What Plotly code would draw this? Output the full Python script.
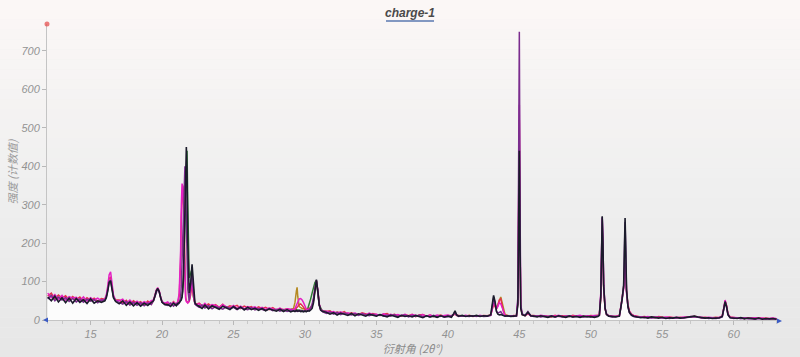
import plotly.graph_objects as go
import numpy as np

# ---------------- data ----------------
two_theta = (
    [12.0,12.25,12.5,12.75,13.0,13.25,13.5,13.75,14.0,14.25,14.5,14.75,15.0,15.25,15.5,15.75]
    + [16.0,16.1,16.2,16.3,16.4,16.5,16.6,16.75]
    + [17.0,17.25,17.5,17.75,18.0,18.25,18.5,18.75,19.0,19.25]
    + [19.4,19.5,19.6,19.7,19.8,19.9,20.0,20.2]
    + [20.4,20.6,20.8,21.0,21.1,21.2]
    + [21.3,21.35,21.4,21.45,21.5,21.55,21.6,21.65,21.7,21.75,21.8,21.9,22.0,22.1,22.2,22.3,22.4]
    + [22.6,22.8,23.0,23.25,23.5,23.75,24.0,24.25,24.5,24.75,25.0,25.25,25.5,25.75,26.0,26.25,26.5,26.75,27.0,27.25,27.5,27.75,28.0,28.25,28.5,28.75,29.0]
    + [29.2,29.3,29.4,29.5,29.6,29.7,29.8,29.9,30.0,30.1,30.2,30.3,30.4,30.5,30.6,30.7,30.8,30.9,31.0,31.1,31.25]
    + [31.5,31.75,32.0,32.25,32.5,32.75,33.0,33.25,33.5,33.75,34.0,34.25,34.5,34.75,35.0,35.25,35.5,35.75,36.0,36.25,36.5,36.75,37.0,37.25,37.5,37.75,38.0,38.25,38.5,38.75,39.0,39.25,39.5,39.75,40.0,40.25]
    + [40.4,40.5,40.6,40.75,41.0,41.25,41.5,41.75,42.0,42.25,42.5,42.75,43.0]
    + [43.1,43.2,43.3,43.4,43.5,43.6,43.7,43.8,43.9,44.0,44.2,44.4,44.6,44.8]
    + [44.9,44.95,45.0,45.05,45.1,45.2,45.4,45.6,45.8]
    + [46.0,46.25,46.5,46.75,47.0,47.25,47.5,47.75,48.0,48.25,48.5,48.75,49.0,49.25,49.5,49.75,50.0,50.25,50.5]
    + [50.6,50.7,50.75,50.8,50.85,50.9,51.0,51.1,51.25,51.5,51.75,52.0]
    + [52.1,52.2,52.3,52.35,52.4,52.45,52.5,52.6,52.7,52.85,53.0]
    + [53.25,53.5,53.75,54.0,54.25,54.5,54.75,55.0,55.25,55.5,55.75,56.0,56.25,56.5,56.75,57.0,57.25,57.5,57.75,58.0,58.25,58.5,58.75,59.0,59.2]
    + [59.3,59.4,59.5,59.6,59.75]
    + [60.0,60.25,60.5,60.75,61.0,61.25,61.5,61.75,62.0,62.25,62.5,62.75,63.0]
)

counts_black = (
    [60,50,62,47,58,45,57,44,56,46,53,43,55,44,50,46]
    + [50,58,75,98,102,80,58,48]
    + [42,50,38,47,37,45,36,44,38,46]
    + [50,62,76,82,74,58,46,40]
    + [40,35,44,37,43,45]
    + [48,52,60,75,110,200,330,420,450,380,200,70,95,145,90,45,40]
    + [36,30,39,29,37,33,28,36,31,27,35,28,34,26,33,27,31,25,30,24,29,26,23,28,22,27,21]
    + [24,22,25,23,24,22,23,21,23,22,24,23,26,30,45,80,105,75,40,26,22]
    + [20,15,19,13,18,15,12,17,11,16,13,10,15,12,10,14,11,8,13,10,7,12,9,11,8,12,9,6,11,8,10,7,11,8,10,7]
    + [16,24,14,10,12,9,11,10,12,9,11,10,14]
    + [35,64,48,22,15,13,14,12,11,10,11,9,10,11]
    + [40,300,440,180,30,14,11,20,11]
    + [10,8,11,9,7,10,8,11,9,7,10,8,9,7,10,8,9,7,9]
    + [12,60,180,270,200,90,30,15,10,9,8,10]
    + [30,55,90,180,265,180,80,35,20,13,10]
    + [8,6,7,5,8,6,5,7,4,6,5,7,5,6,7,8,10,8,6,5,6,4,5,6,9]
    + [28,48,35,14,6]
    + [5,4,6,3,5,4,3,5,2,4,3,4,2]
)

counts_magenta = (
    [70,58,66,54,64,52,61,57,59,50,60,49,58,52,57,50]
    + [55,65,88,118,125,95,65,50]
    + [50,54,43,52,42,49,41,48,43,50]
    + [52,64,78,84,76,60,48,44]
    + [47,39,46,40,48,70]
    + [180,300,355,345,300,180,90,55,48,45,44,50,70,100,65,42,40]
    + [42,35,43,33,40,38,32,40,34,31,38,30,36,29,35,31,34,28,33,27,32,29,26,31,25,29,27]
    + [27,30,38,48,55,56,52,45,35,28,26,27,30,36,50,82,100,78,42,28,23]
    + [23,19,22,17,21,16,19,15,18,14,17,13,18,14,15,12,16,12,15,11,14,11,15,10,14,11,10,14,9,13,10,13,9,12,13,9]
    + [14,20,13,11,10,12,10,11,9,12,10,11,12]
    + [28,45,40,30,35,45,42,30,18,12,10,11,9,12]
    + [50,400,560,220,35,15,12,18,10]
    + [11,9,12,10,9,11,10,12,9,10,11,9,10,12,9,11,10,12,11]
    + [14,70,190,265,210,95,32,16,11,10,9,11]
    + [32,58,80,120,150,130,70,36,22,14,11]
    + [9,8,7,9,6,8,7,6,8,7,6,7,6,8,7,9,9,8,7,6,7,6,5,7,10]
    + [30,52,36,15,7]
    + [6,5,5,6,4,5,6,4,5,3,4,5,3]
)

counts_red = (
    [62,70,55,65,57,63,52,61,53,60,49,58,51,57,48,56]
    + [54,62,82,108,112,86,62,52]
    + [52,44,51,40,50,43,48,39,49,41]
    + [51,63,77,83,75,59,47,42]
    + [45,38,48,40,46,62]
    + [150,270,340,350,330,230,110,60,50,46,45,48,65,95,60,44,41]
    + [44,37,36,42,34,40,33,41,32,37,34,38,30,36,32,35,28,34,30,33,27,32,26,30,27,29,25]
    + [28,27,30,35,40,42,38,33,28,27,28,30,33,38,52,84,102,76,40,27,22]
    + [22,24,17,21,18,22,15,19,16,14,19,15,13,17,14,12,15,17,11,15,12,10,14,11,15,9,13,14,10,13,9,12,13,9,12,11]
    + [13,18,12,12,11,10,12,9,11,10,12,11,13]
    + [25,40,35,28,38,52,55,38,20,13,11,10,12,11]
    + [45,350,520,200,32,14,11,16,12]
    + [12,10,9,11,10,8,12,9,11,10,9,12,10,11,9,10,12,11,13]
    + [13,55,150,230,175,80,28,14,12,9,10,12]
    + [33,60,85,115,140,135,75,40,24,15,12]
    + [10,8,9,7,8,6,9,7,6,8,7,5,7,6,8,7,10,7,6,7,5,6,7,6,11]
    + [29,50,38,16,8]
    + [7,5,6,4,6,5,4,6,4,5,3,4,3]
)

counts_purple = (
    [55,64,50,60,52,58,48,56,47,55,46,54,49,53,45,52]
    + [52,60,78,100,104,82,60,50]
    + [45,41,48,39,46,38,45,37,44,40]
    + [50,61,75,81,73,57,46,41]
    + [38,44,36,43,40,44]
    + [60,90,150,240,330,380,400,350,260,150,80,50,80,125,75,42,38]
    + [33,39,31,37,29,35,32,28,34,30,33,27,32,29,27,32,26,30,27,25,29,24,28,23,27,22,25]
    + [24,23,24,22,25,23,22,24,23,22,24,26,32,40,58,88,104,74,38,25,21]
    + [17,21,15,20,14,18,15,13,17,12,16,13,11,15,11,14,10,13,10,14,9,12,13,8,12,9,13,8,11,8,12,8,11,7,10,11]
    + [15,22,13,9,11,10,9,11,10,11,9,10,12]
    + [33,58,45,24,18,20,22,16,12,11,10,11,10,10]
    + [60,500,750,300,40,16,12,22,11]
    + [9,11,8,10,9,11,7,10,8,9,11,8,10,9,8,10,7,9,10]
    + [12,65,185,268,205,92,31,15,10,8,9,10]
    + [30,54,88,170,255,175,78,34,19,12,9]
    + [7,8,6,7,5,6,7,5,6,4,6,5,6,5,6,7,9,7,5,6,4,5,4,5,8]
    + [26,46,33,13,6]
    + [4,5,3,5,3,4,2,4,3,2,3,2,2]
)

green_theta = [20.8,21.0,21.2,21.4,21.5,21.6,21.7,21.75,21.8,21.9,22.0,22.05,22.1,22.2,22.3,22.5,22.8, None,
               29.0,29.25,29.5,29.75,30.0,30.2,30.3,30.4,30.5,30.6,30.7,30.8,30.9,31.0,31.2,31.5]
green_counts = [42,40,44,60,120,250,420,440,300,110,120,128,110,60,42,38,36, None,
                28,27,26,25,24,30,40,55,70,85,98,102,70,38,25,22]

olive_theta = [28.8,29.0,29.2,29.3,29.4,29.45,29.5,29.6,29.8,30.0,30.2, None,
               43.3,43.4,43.5,43.6,43.7,43.8,43.9,44.0,44.2]
olive_counts = [28,27,30,45,75,85,60,35,30,28,27, None,
                30,32,40,52,60,45,25,14,11]

x_ticks = [15, 20, 25, 30, 35, 40, 45, 50, 55, 60]
y_ticks = [0, 100, 200, 300, 400, 500, 600, 700]

for s in (counts_black, counts_magenta, counts_red, counts_purple):
    assert len(s) == len(two_theta), (len(s), len(two_theta))

# ---------------- figure ----------------
fig = go.Figure()

# white-ish fill under the curves
fig.add_trace(go.Scatter(x=two_theta, y=counts_red, mode="lines", line=dict(width=0),
                         fill="tozeroy", fillcolor="rgba(255,255,255,0.85)",
                         hoverinfo="skip", showlegend=False))

def add_line(x, y, color, width=1.5):
    fig.add_trace(go.Scatter(x=x, y=y, mode="lines", line=dict(color=color, width=width),
                             connectgaps=False, showlegend=False))

add_line(green_theta, green_counts, "#2f7a34")
add_line(olive_theta, olive_counts, "#b58a22")
add_line(two_theta, counts_red, "#e2304e")
add_line(two_theta, counts_magenta, "#e41fc4")
add_line(two_theta, counts_purple, "#7b2d8e")
add_line(two_theta, counts_black, "#1b1b2b", 1.6)

# background gradient (styling only)
W, H = 800, 357
L, R, T, B = 47, 22, 24, 37
pw, ph = W - L - R, H - T - B
top_c = np.array([252, 248, 247])
mid_c = np.array([240, 240, 240])
bot_c = np.array([231, 231, 231])
nb = 36
shapes = []
for i in range(nb):
    py0 = i * H / nb
    py1 = (i + 1) * H / nb
    f = (py0 + py1) / 2 / H
    if f < 0.5:
        c = top_c + (mid_c - top_c) * (f / 0.5)
    else:
        c = mid_c + (bot_c - mid_c) * ((f - 0.5) / 0.5)
    c = c.astype(int)
    shapes.append(dict(type="rect", xref="paper", yref="paper",
                       x0=-L / pw - 0.01, x1=1 + R / pw + 0.01,
                       y0=1 - (py1 - T) / ph, y1=1 - (py0 - T) / ph,
                       line=dict(width=0), fillcolor=f"rgb({c[0]},{c[1]},{c[2]})",
                       layer="below"))

# title underline
shapes.append(dict(type="line", xref="paper", yref="paper",
                   x0=(386 - L) / pw, x1=(434 - L) / pw,
                   y0=1 + (T - 21) / ph, y1=1 + (T - 21) / ph,
                   line=dict(color="#5a78b0", width=1.5)))
# red dot at top of y axis
shapes.append(dict(type="circle", xref="paper", yref="paper", xsizemode="pixel", ysizemode="pixel",
                   xanchor=0, yanchor=1, x0=-2.5, x1=2.5, y0=-2.5, y1=2.5,
                   fillcolor="rgba(230,80,80,0.75)", line=dict(width=0)))
# blue arrow heads at x axis ends
shapes.append(dict(type="path", xref="paper", yref="paper", xsizemode="pixel", ysizemode="pixel",
                   xanchor=0, yanchor=0, path="M -4 0 L 1 -2.5 L 1 2.5 Z",
                   fillcolor="#3b5bc4", line=dict(width=0)))
shapes.append(dict(type="path", xref="paper", yref="paper", xsizemode="pixel", ysizemode="pixel",
                   xanchor=1, yanchor=0, path="M 4 -1 L -1 -3.5 L -1 1.5 Z",
                   fillcolor="#3b5bc4", line=dict(width=0)))

tick_font = dict(family="Liberation Sans, Arial", size=11, color="#939393", style="italic")

fig.update_layout(
    width=W, height=H,
    margin=dict(l=L, r=R, t=T, b=B, autoexpand=False),
    paper_bgcolor="#efefef",
    plot_bgcolor="rgba(0,0,0,0)",
    shapes=shapes,
    title=dict(text="<b><i>charge-1</i></b>", x=(410) / W, xanchor="center",
               y=1 - 13 / H, yanchor="middle", automargin=False,
               font=dict(family="Liberation Sans, Arial", size=12, color="#4a4a4a")),
    xaxis=dict(range=[11.95, 63.1], tickvals=x_ticks, ticktext=[str(v) for v in x_ticks],
               automargin=False,
               showgrid=False, zeroline=False, showline=True, linecolor="#c4c4c4", linewidth=1,
               ticks="outside", ticklen=4, tickcolor="#b8b8b8", tickfont=tick_font,
               minor=dict(dtick=1, ticks="outside", ticklen=3, tickcolor="#c8c8c8"),
               title=dict(text="衍射角 (2θ°)", standoff=0,
                          font=dict(family="Noto Sans CJK SC", size=11, color="#8a8a8a", style="italic"))),
    yaxis=dict(range=[0, 770], tickvals=y_ticks, ticktext=[str(v) for v in y_ticks],
               automargin=False,
               showgrid=False, zeroline=False, showline=True, linecolor="#c4c4c4", linewidth=1,
               ticks="outside", ticklen=4, tickcolor="#b8b8b8", tickfont=tick_font,
               title=dict(text="强度 (计数值)", standoff=0,
                          font=dict(family="Noto Sans CJK SC", size=11, color="#9a9a9a", style="italic"))),
)

fig.write_html("out.html")
